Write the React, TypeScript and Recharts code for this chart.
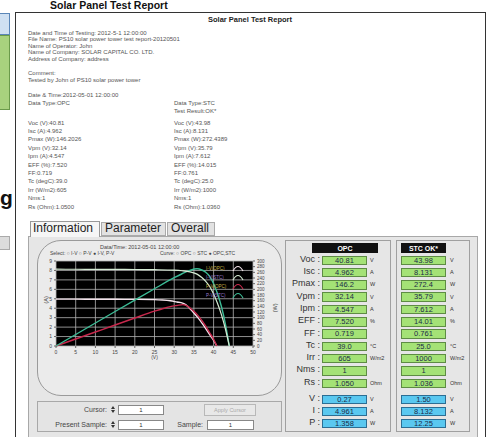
import React from 'react'
import { ComposedChart, Line, XAxis, YAxis, CartesianGrid, Legend } from 'recharts'

// axis ticks
const VOLT_TICKS = [0, 5, 10, 15, 20, 25, 30, 35, 40, 45, 50]
const AMP_TICKS = [0, 1, 2, 3, 4, 5, 6, 7, 8, 9]
const WATT_TICKS = [0, 20, 40, 60, 80, 100, 120, 140, 160, 180, 200, 220, 240, 260, 280, 300]

// curves
const opcVolts = [0, 5, 10, 15, 20, 25, 27, 29, 30.7, 32.14, 33, 34, 35, 36, 37, 38, 39, 40, 40.81]
const opcAmps = [4.962, 4.958, 4.953, 4.946, 4.935, 4.91, 4.87, 4.79, 4.66, 4.547, 4.35, 3.95, 3.5, 3.0, 2.45, 1.85, 1.2, 0.6, 0]
const opcWatts = [0, 24.8, 49.5, 74.2, 98.7, 122.8, 131.5, 138.9, 143.1, 146.2, 143.6, 134.3, 122.5, 108, 90.7, 70.3, 46.8, 24, 0]

const stcVolts = [0, 5, 10, 15, 20, 25, 30, 32, 34, 35.79, 37, 38, 39, 40, 41, 42, 43, 43.98]
const stcAmps = [8.131, 8.125, 8.118, 8.11, 8.1, 8.08, 8.03, 7.97, 7.85, 7.612, 7.25, 6.85, 6.3, 5.5, 4.5, 3.3, 1.8, 0]
const stcWatts = [0, 40.6, 81.2, 121.7, 162, 202, 240.9, 255, 266.9, 272.4, 268.3, 260.3, 245.7, 220, 184.5, 138.6, 77.4, 0]

// report text
const REPORT_HEAD = [
  'Date and Time of Testing: 2012-5-1 12:00:00',
  'File Name: PS10 solar power tower test report-20120501',
  'Name of Operator: John',
  'Name of Company: SOLAR CAPITAL CO. LTD.',
  'Address of Company: address',
]
const REPORT_COMMENT = ['Comment:', 'Tested by John of PS10 solar power tower']
const OPC_LINES = ['Voc (V):40.81', 'Isc (A):4.962', 'Pmax (W):146.2026', 'Vpm (V):32.14', 'Ipm (A):4.547',
  'EFF (%):7.520', 'FF:0.719', 'Tc (degC):39.0', 'Irr (W/m2):605', 'Nms:1', 'Rs (Ohm):1.0500']
const STC_LINES = ['Voc (V):43.98', 'Isc (A):8.131', 'Pmax (W):272.4389', 'Vpm (V):35.79', 'Ipm (A):7.612',
  'EFF (%):14.015', 'FF:0.761', 'Tc (degC):25.0', 'Irr (W/m2):1000', 'Nms:1', 'Rs (Ohm):1.0360']

// parameter tables
const PARAM_LABELS = ['Voc', 'Isc', 'Pmax', 'Vpm', 'Ipm', 'EFF', 'FF', 'Tc', 'Irr', 'Nms', 'Rs']
const PARAM_UNITS = ['V', 'A', 'W', 'V', 'A', '%', '', '°C', 'W/m2', '', 'Ohm']
const OPC_VALUES = ['40.81', '4.962', '146.2', '32.14', '4.547', '7.520', '0.719', '39.0', '605', '1', '1.050']
const STC_VALUES = ['43.98', '8.131', '272.4', '35.79', '7.612', '14.01', '0.761', '25.0', '1000', '1', '1.036']
const CURSOR_LABELS = ['V', 'I', 'P']
const CURSOR_UNITS = ['V', 'A', 'W']
const OPC_CURSOR = ['0.27', '4.961', '1.358']
const STC_CURSOR = ['1.50', '8.132', '12.25']

const FONT = '"Liberation Sans", Arial, sans-serif'

const opcIV = opcVolts.map((v, k) => ({ v, y: opcAmps[k] }))
const opcPV = opcVolts.map((v, k) => ({ v, y: opcWatts[k] }))
const stcIV = stcVolts.map((v, k) => ({ v, y: stcAmps[k] }))
const stcPV = stcVolts.map((v, k) => ({ v, y: stcWatts[k] }))

function Txt({ x, y, size = 6, color = '#555', bold = false, align = 'left', children }: any) {
  const style: React.CSSProperties = {
    position: 'absolute', top: y - size * 0.58, fontSize: size, lineHeight: 1.1, color,
    fontWeight: bold ? 700 : 400, whiteSpace: 'nowrap', fontFamily: FONT,
  }
  if (align === 'left') style.left = x
  else if (align === 'right') style.right = 487 - x
  else { style.left = x - 150; style.width = 300; style.textAlign = 'center' }
  return <div style={style}>{children}</div>
}

function Box({ x, y, w, h, bg, border = '#999', radius = 0, children, style }: any) {
  return (
    <div style={{
      position: 'absolute', left: x, top: y, width: w, height: h, background: bg,
      border: `1px solid ${border}`, borderRadius: radius, boxSizing: 'border-box', ...style,
    }}>{children}</div>
  )
}

function Spinner({ x, y }: any) {
  return (
    <div style={{ position: 'absolute', left: x, top: y }}>
      <div style={{ width: 0, height: 0, borderLeft: '2.5px solid transparent', borderRight: '2.5px solid transparent', borderBottom: '3px solid #333' }} />
      <div style={{ width: 0, height: 0, marginTop: 1, borderLeft: '2.5px solid transparent', borderRight: '2.5px solid transparent', borderTop: '3px solid #333' }} />
    </div>
  )
}

const legendTextColors = ['#c8b448', '#9a7ad0', '#c8b448', '#9a7ad0']

function PlotLegend(props: any) {
  const items = props.payload || []
  return (
    <div style={{ fontFamily: FONT }}>
      {items.map((it: any, k: number) => (
        <div key={k} style={{ display: 'flex', alignItems: 'center', height: 9 }}>
          <span style={{ fontSize: 4.5, color: legendTextColors[k], width: 26 }}>{it.value}</span>
          <svg width={12} height={7}>
            <path d="M1,6 Q6,-3 11,6" fill="none" stroke={it.color} strokeWidth={1.2} />
          </svg>
        </div>
      ))}
    </div>
  )
}

function IVChart() {
  return (
    <div style={{ position: 'absolute', left: 30, top: 255 }}>
      <ComposedChart width={262} height={148} margin={{ top: 6, right: 15, left: 0, bottom: 5 }}>
        <CartesianGrid xAxisId="v" yAxisId="i" fill="#000" fillOpacity={1} stroke="#b4b4b4" strokeWidth={0.8} />
        <XAxis xAxisId="v" type="number" dataKey="v" domain={[0, 50]} ticks={VOLT_TICKS} interval={0}
          height={16} tick={{ fontSize: 5, fill: '#444' }} tickSize={2} axisLine={false} stroke="#666"
          label={{ value: '(V)', position: 'insideBottom', offset: 3, fontSize: 5, fill: '#444' }} />
        <YAxis yAxisId="i" orientation="left" domain={[0, 9]} ticks={AMP_TICKS} interval={0} width={26}
          tick={{ fontSize: 5, fill: '#444' }} tickSize={2} axisLine={false} stroke="#666"
          label={{ value: '(A)', angle: -90, position: 'insideLeft', offset: 16, fontSize: 5.5, fill: '#444' }} />
        <YAxis yAxisId="p" orientation="right" domain={[0, 300]} ticks={WATT_TICKS} interval={0} width={24}
          tick={{ fontSize: 4.5, fill: '#444' }} tickSize={2} axisLine={false} stroke="#666"
          label={{ value: '(W)', angle: -90, position: 'insideRight', offset: 2, fontSize: 5.5, fill: '#444' }} />
        <Legend content={<PlotLegend />} wrapperStyle={{ position: 'absolute', left: 176, top: 9, width: 'auto' }} />
        <Line xAxisId="v" yAxisId="i" data={opcIV} dataKey="y" name="I-V(OPC)" type="monotone" stroke="#f2e2ea"
          strokeWidth={1.4} dot={false} activeDot={false} isAnimationActive={false} />
        <Line xAxisId="v" yAxisId="p" data={opcPV} dataKey="y" name="P-V(OPC)" type="monotone" stroke="#c8284c"
          strokeWidth={1.4} dot={false} activeDot={false} isAnimationActive={false} />
        <Line xAxisId="v" yAxisId="p" data={stcPV} dataKey="y" name="P-V(STC)" type="monotone" stroke="#3cbc96"
          strokeWidth={1.4} dot={false} activeDot={false} isAnimationActive={false} />
        <Line xAxisId="v" yAxisId="i" data={stcIV} dataKey="y" name="I-V(STC)" type="monotone" stroke="#d6ecd4"
          strokeWidth={1.2} dot={false} activeDot={false} isAnimationActive={false} />
      </ComposedChart>
    </div>
  )
}

function ParamGroup({ x, w, title, titleX, titleW, boxX, unitX, values, cursor, labels }: any) {
  const rowY = (k: number) => 260 + k * 12.3
  const curY = (k: number) => 399 + k * 12
  return (
    <>
      <Box x={x} y={240} w={w} h={192} bg="#e6e6e6" border="#a0a0a0" />
      <Box x={titleX} y={243} w={titleW} h={10} bg="#111" border="#111">
        <div style={{ color: '#fff', fontSize: 7, fontWeight: 700, fontFamily: FONT, textAlign: 'center', lineHeight: '9px' }}>{title}</div>
      </Box>
      {values.map((val: string, k: number) => (
        <React.Fragment key={k}>
          {labels && <Txt x={320} y={rowY(k)} size={9} color="#333" align="right">{PARAM_LABELS[k]} :</Txt>}
          <Box x={boxX} y={rowY(k) - 4.5} w={45} h={9.5} bg="#a4e276" border="#5e8c44">
            <div style={{ fontSize: 7.5, fontFamily: FONT, color: '#1c2c48', textAlign: 'center', lineHeight: '8px' }}>{val}</div>
          </Box>
          <Txt x={unitX} y={rowY(k)} size={5.5} color="#333">{PARAM_UNITS[k]}</Txt>
        </React.Fragment>
      ))}
      {cursor.map((val: string, k: number) => (
        <React.Fragment key={'c' + k}>
          {labels && <Txt x={320} y={curY(k)} size={9} color="#333" align="right">{CURSOR_LABELS[k]} :</Txt>}
          <Box x={boxX} y={curY(k) - 4.5} w={45} h={9.5} bg="#5ac8f0" border="#2c6e94">
            <div style={{ fontSize: 7.5, fontFamily: FONT, color: '#1c2c48', textAlign: 'center', lineHeight: '8px' }}>{val}</div>
          </Box>
          <Txt x={unitX} y={curY(k)} size={5.5} color="#333">{CURSOR_UNITS[k]}</Txt>
        </React.Fragment>
      ))}
    </>
  )
}

export default function App() {
  return (
    <div style={{ position: 'relative', width: 487, height: 437, overflow: 'hidden', background: '#fff', fontFamily: FONT }}>
      <style>{'body{margin:0}'}</style>

      {/* bits of the page behind the report */}
      <div style={{ position: 'absolute', left: 50, top: 0, fontSize: 10.5, lineHeight: 1, fontWeight: 700, color: '#111', fontFamily: FONT, whiteSpace: 'nowrap' }}>
        Solar Panel Test Report
      </div>
      <Box x={-2} y={13} w={12} h={22} bg="#cfe0f2" border="#5a86b8" />
      <Box x={-2} y={35} w={12} h={75} bg="#a8d27e" border="#6a9a4a" />
      <div style={{ position: 'absolute', left: 0, top: 186, fontSize: 21, fontWeight: 700, color: '#111', fontFamily: FONT }}>g</div>
      <Box x={-2} y={236} w={12} h={14} bg="#dcdcdc" border="#aaa" />

      {/* the report sheet */}
      <Box x={15} y={12} w={471} h={440} bg="#fff" border="#333" />
      <Txt x={250} y={20} size={7.5} color="#222" bold align="center">Solar Panel Test Report</Txt>
      {REPORT_HEAD.map((t, k) => <Txt key={t} x={28} y={33 + k * 6.5} size={6}>{t}</Txt>)}
      {REPORT_COMMENT.map((t, k) => <Txt key={t} x={28} y={73 + k * 7} size={6}>{t}</Txt>)}
      <Txt x={28} y={95} size={6}>Date &amp; Time:2012-05-01 12:00:00</Txt>
      <Txt x={28} y={103} size={6}>Data Type:OPC</Txt>
      <Txt x={174} y={103} size={6}>Data Type:STC</Txt>
      <Txt x={174} y={111} size={6}>Test Result:OK*</Txt>
      {OPC_LINES.map((t, k) => <Txt key={t} x={28} y={123 + k * 8.4} size={6}>{t}</Txt>)}
      {STC_LINES.map((t, k) => <Txt key={t} x={174} y={123 + k * 8.4} size={6}>{t}</Txt>)}

      {/* tabs */}
      <Box x={28} y={236} w={450} h={210} bg="#e6e6e6" border="#a8a8a8" />
      <Box x={30} y={221} w={70} h={16} bg="#f6f6f6" border="#999" style={{ borderBottom: 'none' }} />
      <Txt x={33} y={229} size={12} color="#222">Information</Txt>
      <Box x={101} y={222} w={65} h={14} bg="#e2e2e2" border="#aaa" />
      <Txt x={105} y={229} size={12} color="#222">Parameter</Txt>
      <Box x={167} y={222} w={48} h={14} bg="#e2e2e2" border="#aaa" />
      <Txt x={171} y={229} size={12} color="#222">Overall</Txt>

      {/* chart frame */}
      <Box x={37} y={240} w={245} h={156} bg="#ebebeb" border="#9a9a9a" radius={24} />
      <Txt x={100} y={247} size={5.5} color="#444">Data/Time:       2012-05-01 12:00:00</Txt>
      <Txt x={50} y={253.5} size={5} color="#444">Select:  ○ I-V   ○ P-V   ● I-V, P-V</Txt>
      <Txt x={160} y={253.5} size={5} color="#444">Curve:  ○ OPC   ○ STC   ● OPC,STC</Txt>
      <IVChart />

      {/* cursor controls */}
      <Box x={37} y={401} w={245} h={31} bg="#e4e4e4" border="#a8a8a8" />
      <Txt x={107} y={410} size={7} color="#444" align="right">Cursor:</Txt>
      <Spinner x={111} y={406} />
      <Box x={118} y={405} w={46} h={10} bg="#fff" border="#888">
        <div style={{ fontSize: 6, textAlign: 'center', lineHeight: '9px', color: '#333' }}>1</div>
      </Box>
      <Box x={204} y={404} w={52} h={12} bg="#e8e8e8" border="#b8b8b8">
        <div style={{ fontSize: 5.5, textAlign: 'center', lineHeight: '11px', color: '#aaa' }}>Apply Cursor</div>
      </Box>
      <Txt x={107} y={425} size={7} color="#444" align="right">Present Sample:</Txt>
      <Spinner x={111} y={421} />
      <Box x={118} y={420} w={46} h={10} bg="#fff" border="#888">
        <div style={{ fontSize: 6, textAlign: 'center', lineHeight: '9px', color: '#333' }}>1</div>
      </Box>
      <Txt x={203} y={425} size={7} color="#444" align="right">Sample:</Txt>
      <Box x={207} y={420} w={47} h={10} bg="#fff" border="#888">
        <div style={{ fontSize: 6, textAlign: 'center', lineHeight: '9px', color: '#333' }}>1</div>
      </Box>

      {/* parameter tables */}
      <ParamGroup x={285} w={106} title="OPC" titleX={312} titleW={66} boxX={322} unitX={370}
        values={OPC_VALUES} cursor={OPC_CURSOR} labels />
      <ParamGroup x={396} w={74} title="STC OK*" titleX={401} titleW={45} boxX={401} unitX={450}
        values={STC_VALUES} cursor={STC_CURSOR} labels={false} />
    </div>
  )
}
